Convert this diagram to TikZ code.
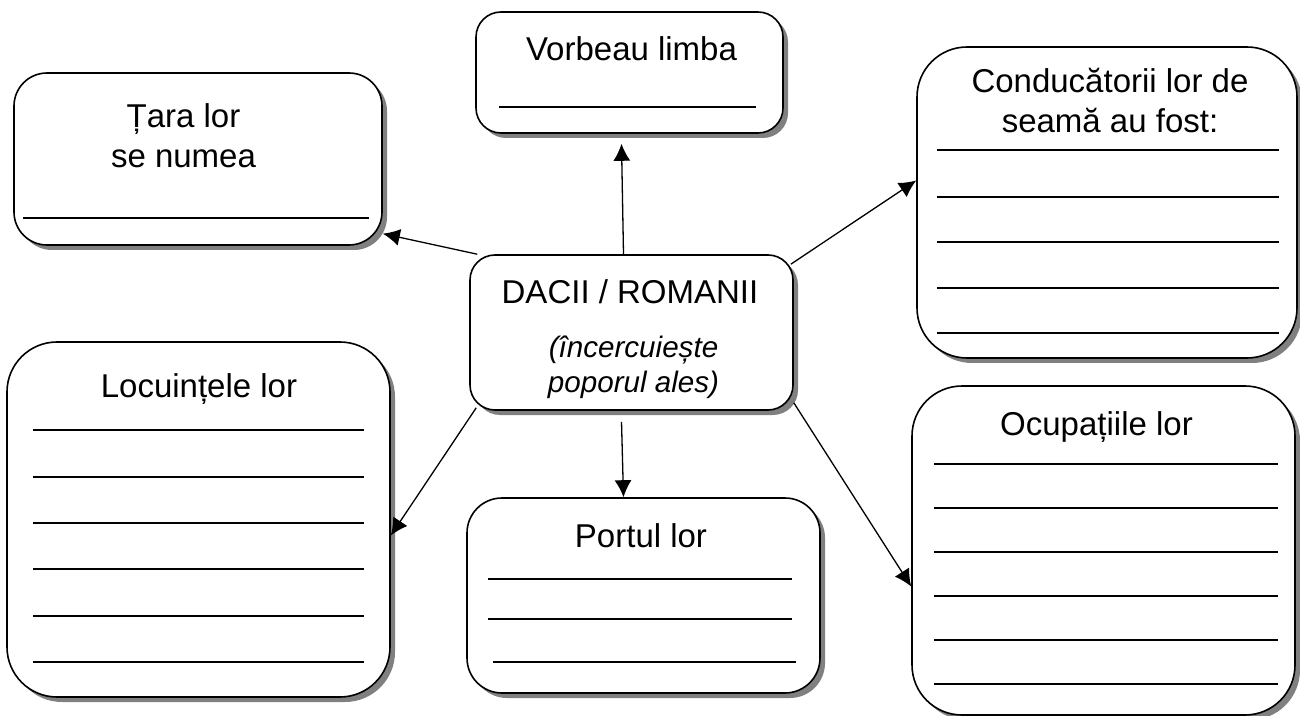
\documentclass[tikz,border=0pt]{standalone}
\usepackage{fontspec}
\setmainfont{Liberation Sans}
\usetikzlibrary{arrows.meta,shadows}

\begin{document}
\begin{tikzpicture}[x=0.5pt, y=-0.5pt, >={Latex[length=8.5pt,width=8.5pt]},
  box/.style = {draw, line width=0.8pt, fill=white, rounded corners=#1,
    drop shadow={shadow xshift=2.5pt, shadow yshift=-2.5pt, fill=black!50, opacity=1}},
  box/.default = {12.5pt},
  title/.style = {anchor=base, align=center, inner sep=0pt, font=\fontsize{16.5}{20}\selectfont},
  hint/.style = {anchor=base, align=center, inner sep=0pt, font=\fontsize{14.8}{17.5}\selectfont\itshape},
  blank/.style = {line width=0.6pt},
  link/.style = {->, line width=0.65pt}]
\useasboundingbox[fill=white] (0,0) rectangle (1300,716);

% the boxes
\node[box=16.5pt, minimum width=184pt, minimum height=86pt] (tara) at (198,159) {};
\node[box, minimum width=153.5pt, minimum height=60.5pt] (limba) at (629.5,72.5) {};
\node[box=25pt, minimum width=190pt, minimum height=155.5pt] (conduc) at (1107,202.5) {};
\node[box, minimum width=161.5pt, minimum height=77.5pt] (popor) at (631.5,332.5) {};
\node[box=25pt, minimum width=191.5pt, minimum height=177.5pt] (locuinte) at (198.5,519.5) {};
\node[box=17.5pt, minimum width=176.5pt, minimum height=97.5pt] (port) at (643.5,595.5) {};
\node[box=25pt, minimum width=191.5pt, minimum height=164.5pt] (ocup) at (1103.5,550.5) {};

% the texts (base = last line)
\node[title] (taraT) at (183.5,168) {Țara lor\\se numea};
\node[title] (limbaT) at (631.5,61) {Vorbeau limba};
\node[title] (conducT) at (1110,133) {Conducătorii lor de\\seamă au fost:};
\node[title] (poporT) at (630,304) {DACII / ROMANII};
\node[hint] (poporH) at (633.5,393) {(încercuiește\\poporul ales)};
\node[title] (locuinteT) at (199,398) {Locuințele lor};
\node[title] (portT) at (641,547) {Portul lor};
\node[title] (ocupT) at (1096.5,435) {Ocupațiile lor};

% lines to write on
\draw[blank] (23,218) -- (369,218);
\draw[blank] (499,107) -- (756,107);
\foreach \y in {150,197,242,288,333}
  \draw[blank] (937,\y) -- (1279,\y);
\foreach \y in {430,477,523,569,616,662}
  \draw[blank] (33,\y) -- (364,\y);
\foreach \y in {579,619}
  \draw[blank] (488,\y) -- (792,\y);
\draw[blank] (493,662) -- (796,662);
\foreach \y in {464,508,552,596,640,684}
  \draw[blank] (934,\y) -- (1278,\y);

% arrows
\draw[link] ([xshift=4pt]popor.north west) -- (tara.-22);
\draw[link] ([xshift=-4pt]popor.north) -- ([xshift=-4pt,yshift=-5pt]limba.south);
\draw[link] ([xshift=-1.5pt,yshift=-5pt]popor.north east) -- ([yshift=11pt]conduc.west);
\draw[link] ([xshift=3.5pt,yshift=1.5pt]popor.south west) -- ([yshift=-8pt]locuinte.east);
\draw[link] ([xshift=-5pt,yshift=-5.5pt]popor.south) -- ([xshift=-10pt]port.north);
\draw[link] ([yshift=4pt]popor.south east) -- ([yshift=-18pt]ocup.west);

\end{tikzpicture}
\end{document}
